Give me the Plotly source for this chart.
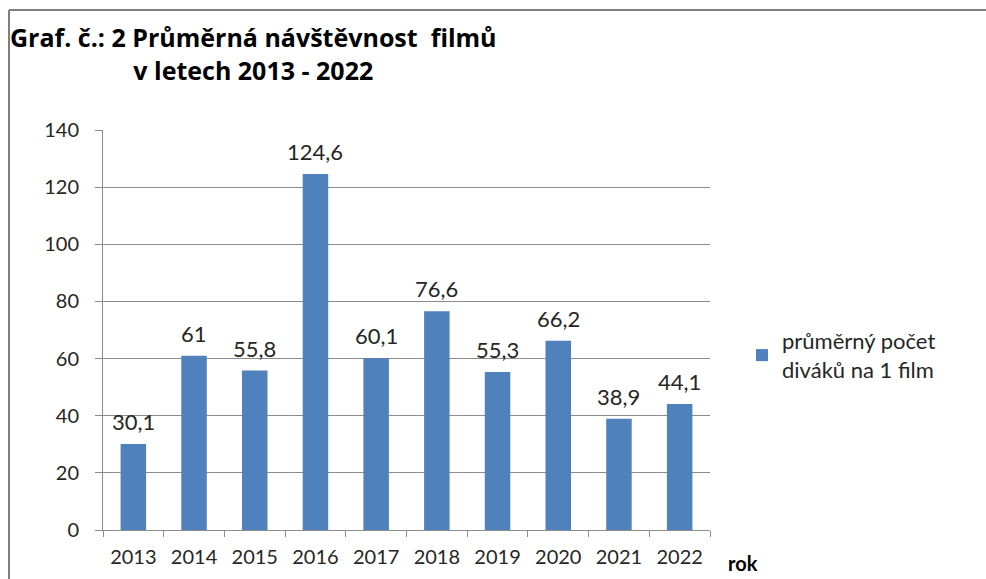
import plotly.graph_objects as go

years = ["2013", "2014", "2015", "2016", "2017", "2018", "2019", "2020", "2021", "2022"]
values = [30.1, 61, 55.8, 124.6, 60.1, 76.6, 55.3, 66.2, 38.9, 44.1]
series_name = "průměrný počet<br>diváků na 1 film"
title_lines = ["Graf. č.: 2 Průměrná návštěvnost  filmů", "v letech 2013 - 2022"]
x_title = "rok"
y_ticks = [0, 20, 40, 60, 80, 100, 120, 140]

def fmt(v):
    return ("%g" % v).replace(".", ",")

labels = [fmt(v) for v in values]

FONT = "Lato, 'Open Sans', sans-serif"
TFONT = "'Open Sans', Lato, sans-serif"
BLUE = "#4F81BD"
TXT = "#262626"

L, R, T, B = 103, 276, 130, 49
W, H = 986, 579
pw, ph = W - L - R, H - T - B

def px_x(px):
    return (px - L) / pw

def px_y(py):
    return (H - B - py) / ph

fig = go.Figure(go.Bar(
    x=years, y=values, name=series_name,
    marker=dict(color=BLUE, line=dict(width=0)),
    width=0.42,
    showlegend=True,
))

annotations = [
    dict(x=i, y=v, xref="x", yref="y", text=lab, showarrow=False,
         yanchor="bottom", yshift=7,
         font=dict(family=FONT, size=22, color=TXT))
    for i, (v, lab) in enumerate(zip(values, labels))
]
annotations += [
    dict(text="<b>" + title_lines[0] + "</b><br><b>" + title_lines[1] + "</b>",
         xref="paper", yref="paper", x=px_x(8), y=px_y(18),
         xanchor="left", yanchor="top", align="center", showarrow=False,
         font=dict(family=TFONT, size=25, color="black")),
    dict(text="<b>" + x_title + "</b>", xref="paper", yref="paper",
         x=px_x(726), y=px_y(563), xanchor="left", yanchor="middle",
         showarrow=False, font=dict(family=FONT, size=20, color="black")),
]

fig.update_layout(
    width=W, height=H,
    margin=dict(l=L, r=R, t=T, b=B, autoexpand=False),
    paper_bgcolor="white", plot_bgcolor="white",
    font=dict(family=FONT, size=20, color=TXT),
    bargap=0.58,
    xaxis=dict(
        type="category", automargin=False,
        categoryorder="array", categoryarray=years,
        range=[-0.5, len(years) - 0.5],
        showline=True, linecolor="#8c8c8c", linewidth=1,
        ticks="outside", tickson="boundaries", ticklen=6, tickcolor="#8c8c8c",
        tickfont=dict(family=FONT, size=20, color=TXT),
        ticklabelstandoff=9,
        showgrid=False,
    ),
    yaxis=dict(
        range=[0, 140], tickvals=y_ticks, automargin=False,
        showline=True, linecolor="#8c8c8c", linewidth=1,
        ticks="outside", ticklen=7, tickcolor="#8c8c8c",
        showgrid=True, gridcolor="#8c8c8c", gridwidth=1,
        zeroline=False,
        tickfont=dict(family=FONT, size=20, color=TXT),
        ticklabelstandoff=12,
    ),
    legend=dict(
        x=px_x(742), y=px_y(320), xanchor="left", yanchor="top",
        font=dict(family=FONT, size=22, color=TXT),
        bgcolor="rgba(0,0,0,0)", itemwidth=30,
    ),
    annotations=annotations,
    shapes=[
        dict(type="line", xref="paper", yref="paper", x0=px_x(9), x1=px_x(9),
             y0=px_y(10), y1=px_y(579), line=dict(color="#7f7f7f", width=2)),
        dict(type="line", xref="paper", yref="paper", x0=px_x(9), x1=px_x(986),
             y0=px_y(10), y1=px_y(10), line=dict(color="#7f7f7f", width=2)),
    ],
)

fig.write_html("out.html", config={"displayModeBar": False},
               post_script="document.body.style.margin='0';document.body.style.overflow='hidden';")
